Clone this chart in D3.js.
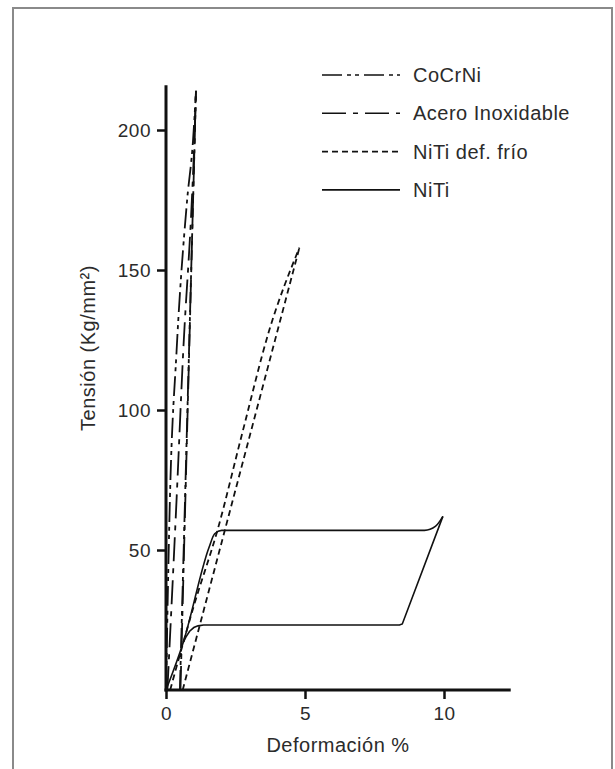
<!DOCTYPE html>
<html>
<head>
<meta charset="utf-8">
<title>Tensión - Deformación</title>
<script src="https://d3js.org/d3.v7.min.js"></script>
<style>
	body { margin: 0; background: #fff; }
	text { font-family: "Liberation Sans", Arial, sans-serif; fill: #2b2b2b; letter-spacing: 0.5px; }
</style>
</head>
<body>
<div id="chart"></div>
<script>

// series (x = deformación %, y = tensión Kg/mm2), carga y descarga
// every piece is kept in increasing x order
var cocrniCarga = [[0,0],[0.14,68],[0.38,121],[0.76,175],[0.97,196],[1.08,214]];
var cocrniDescarga = [[0.5,0],[1.08,214]];
var aceroCarga = [[0.05,0],[0.38,68],[0.62,121],[0.93,175],[1.02,196],[1.07,212]];
var aceroDescarga = [[0.52,0],[1.07,212]];
var nitiFrioCarga = [[0.15,0],[1.0,30],[1.85,57],[2.75,92],[3.7,128],[4.8,158]];
var nitiFrioDescarga = [[0.6,0],[4.8,158]];
var nitiCarga = [[0,0],[0.62,17],[1.55,51],[1.75,55.8],[2.0,57],[9.3,57],[9.7,58.5],[9.96,62]];
var nitiDescarga = [[0.62,17],[0.72,19],[0.85,21],[1.0,22.3],[1.15,22.9],[1.35,23.2],[8.4,23.2],[8.5,23.6],[9.96,62]];

var seriesNames = ["CoCrNi", "Acero Inoxidable", "NiTi def. frío", "NiTi"];
var seriesData = [
	[cocrniCarga, cocrniDescarga],
	[aceroCarga, aceroDescarga],
	[nitiFrioCarga, nitiFrioDescarga],
	[nitiCarga, nitiDescarga]
];
var seriesDash = ["20,5,4,4,4,5", "24,7,5,7", "6,4", null];

var xTicks = [0, 5, 10];
var yTicks = [50, 100, 150, 200];

var W = 615, H = 769;
var svg = d3.select("#chart").append("svg").attr("width", W).attr("height", H);

// frame
svg.append("rect")
	.attr("x", 13).attr("y", 8)
	.attr("width", 599).attr("height", 780)
	.attr("fill", "none").attr("stroke", "#8a8a8a").attr("stroke-width", 2);

var x = d3.scaleLinear().domain([0, 10]).range([166, 444]);
var y = d3.scaleLinear().domain([0, 200]).range([690, 130]);

// axes
var xAxis = svg.append("g").attr("transform", "translate(0,690)")
	.call(d3.axisBottom(x).tickValues(xTicks).tickSize(9).tickPadding(8));
var yAxis = svg.append("g").attr("transform", "translate(166,0)")
	.call(d3.axisLeft(y).tickValues(yTicks).tickSize(9).tickPadding(6));

[xAxis, yAxis].forEach(function(a){
	a.select(".domain").remove();
	a.selectAll("line").attr("stroke", "#111").attr("stroke-width", 2.5);
	a.selectAll("text").style("font-size", "19px").attr("fill", "#2b2b2b")
		.style("font-family", "'Liberation Sans', Arial, sans-serif");
});

// axis lines, longer than the tick range
svg.append("line").attr("x1", x(0)).attr("x2", x(0))
	.attr("y1", y(0) + 1.5).attr("y2", y(216))
	.attr("stroke", "#111").attr("stroke-width", 3);
svg.append("line").attr("x1", x(0) - 1.5).attr("x2", x(12.4))
	.attr("y1", y(0)).attr("y2", y(0))
	.attr("stroke", "#111").attr("stroke-width", 3);

// curves: loading smooth, unloading straight
var lineSmooth = d3.line()
	.curve(d3.curveMonotoneX)
	.x(function(d){ return x(d[0]); })
	.y(function(d){ return y(d[1]); });
var lineStraight = d3.line()
	.x(function(d){ return x(d[0]); })
	.y(function(d){ return y(d[1]); });

seriesData.forEach(function(parts, i){
	parts.forEach(function(s, j){
		svg.append("path")
			.datum(s)
			.attr("d", j == 0 ? lineSmooth : lineStraight)
			.attr("fill", "none")
			.attr("stroke", "#111")
			.attr("stroke-width", i == 3 ? 1.6 : 1.8)
			.attr("stroke-dasharray", seriesDash[i]);
	});
});

// legend
var legend = svg.append("g");
seriesNames.forEach(function(name, i){
	var ly = 75 + i * 38.3;
	legend.append("line")
		.attr("x1", 322).attr("x2", 400)
		.attr("y1", ly).attr("y2", ly)
		.attr("stroke", "#111").attr("stroke-width", 1.6)
		.attr("stroke-dasharray", seriesDash[i]);
	legend.append("text")
		.attr("x", 413).attr("y", ly + 7)
		.style("font-size", "20px")
		.text(name);
});

// titles
svg.append("text")
	.attr("transform", "translate(95,348) rotate(-90)")
	.attr("text-anchor", "middle")
	.style("font-size", "20px")
	.text("Tensión (Kg/mm²)");

svg.append("text")
	.attr("x", 338).attr("y", 752)
	.attr("text-anchor", "middle")
	.style("font-size", "20px")
	.text("Deformación %");

</script>
</body>
</html>
